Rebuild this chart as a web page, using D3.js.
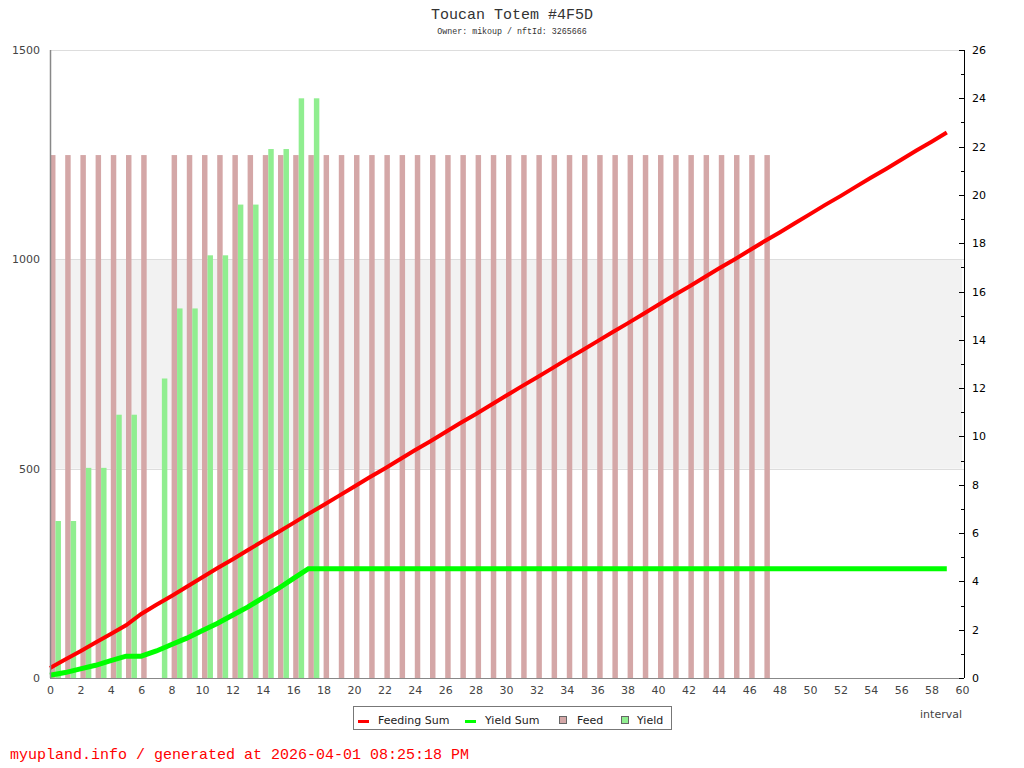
<!DOCTYPE html>
<html>
<head>
<meta charset="utf-8">
<script src="https://cdn.jsdelivr.net/npm/d3@7"></script>
<style>
  html, body { margin: 0; padding: 0; background: #fff; }
  svg { display: block; }
</style>
</head>
<body>
<svg id="chart" width="1024" height="768"></svg>
<script>
// ---------- data ----------
const titleText = "Toucan Totem #4F5D";
const subtitleText = "Owner: mikoup / nftId: 3265666";
const footerText = "myupland.info / generated at 2026-04-01 08:25:18 PM";
const xAxisLabel = "interval";

const leftTicks = [0, 500, 1000, 1500];
const rightTicks = [0, 2, 4, 6, 8, 10, 12, 14, 16, 18, 20, 22, 24, 26];
const rightMinorTicks = [1, 3, 5, 7, 9, 11, 13, 15, 17, 19, 21, 23, 25];
const bottomTicks = [0, 2, 4, 6, 8, 10, 12, 14, 16, 18, 20, 22, 24, 26, 28, 30, 32, 34, 36, 38, 40, 42, 44, 46, 48, 50, 52, 54, 56, 58, 60];

const feedIntervals = [0, 1, 2, 3, 4, 5, 6, 8, 9, 10, 11, 12, 13, 14, 15, 16, 17, 18, 19, 20, 21, 22, 23, 24, 25, 26, 27, 28, 29, 30, 31, 32, 33, 34, 35, 36, 37, 38, 39, 40, 41, 42, 43, 44, 45, 46, 47];
const feedValues = [21.65, 21.65, 21.65, 21.65, 21.65, 21.65, 21.65, 21.65, 21.65, 21.65, 21.65, 21.65, 21.65, 21.65, 21.65, 21.65, 21.65, 21.65, 21.65, 21.65, 21.65, 21.65, 21.65, 21.65, 21.65, 21.65, 21.65, 21.65, 21.65, 21.65, 21.65, 21.65, 21.65, 21.65, 21.65, 21.65, 21.65, 21.65, 21.65, 21.65, 21.65, 21.65, 21.65, 21.65, 21.65, 21.65, 21.65];

const yieldIntervals = [0, 1, 2, 3, 4, 5, 7, 8, 9, 10, 11, 12, 13, 14, 15, 16, 17];
const yieldValues = [6.5, 6.5, 8.7, 8.7, 10.9, 10.9, 12.4, 15.3, 15.3, 17.5, 17.5, 19.6, 19.6, 21.9, 21.9, 24.0, 24.0];

const sumIntervals = [0, 1, 2, 3, 4, 5, 6, 7, 8, 9, 10, 11, 12, 13, 14, 15, 16, 17, 18, 19, 20, 21, 22, 23, 24, 25, 26, 27, 28, 29, 30, 31, 32, 33, 34, 35, 36, 37, 38, 39, 40, 41, 42, 43, 44, 45, 46, 47, 48, 49, 50, 51, 52, 53, 54, 55, 56, 57, 58, 59];
const feedingSum = [24, 44, 64, 85, 105, 126, 153, 175, 196, 218, 240, 262, 283, 305, 327, 348, 370, 392, 413, 435, 457, 479, 500, 522, 544, 565, 587, 609, 630, 652, 674, 696, 717, 739, 761, 782, 804, 826, 847, 869, 891, 913, 934, 956, 978, 999, 1021, 1043, 1064, 1086, 1108, 1130, 1151, 1173, 1195, 1216, 1238, 1260, 1281, 1303];
const yieldSum = [6.5, 13, 21.7, 30.4, 41.3, 52.2, 52.2, 64.6, 79.9, 95.2, 112.7, 130.2, 149.8, 169.4, 191.3, 213.2, 237.2, 261.2, 261.2, 261.2, 261.2, 261.2, 261.2, 261.2, 261.2, 261.2, 261.2, 261.2, 261.2, 261.2, 261.2, 261.2, 261.2, 261.2, 261.2, 261.2, 261.2, 261.2, 261.2, 261.2, 261.2, 261.2, 261.2, 261.2, 261.2, 261.2, 261.2, 261.2, 261.2, 261.2, 261.2, 261.2, 261.2, 261.2, 261.2, 261.2, 261.2, 261.2, 261.2, 261.2];

const seriesNames = ["Feeding Sum", "Yield Sum", "Feed", "Yield"];
const colors = { feedingSum: "#ff0000", yieldSum: "#00ff00", feed: "#d4a7a7", yield: "#90ee90" };

// ---------- layout ----------
const svg = d3.select("#chart");
const plot = { left: 50, right: 962, top: 50, bottom: 678 };

const x = d3.scaleLinear().domain([0, 60]).range([plot.left, plot.right]);
const yL = d3.scaleLinear().domain([0, 1500]).range([plot.bottom, plot.top]);
const yR = d3.scaleLinear().domain([0, 26]).range([plot.bottom, plot.top]);

const unit = x(1) - x(0);
const barW = unit * 0.36;

// background band between 500 and 1000
svg.append("rect")
  .attr("x", plot.left).attr("width", plot.right - plot.left)
  .attr("y", yL(1000)).attr("height", yL(500) - yL(1000))
  .attr("fill", "#f2f2f2");

// gridlines
svg.append("g").selectAll("line").data([500, 1000, 1500]).join("line")
  .attr("x1", plot.left).attr("x2", plot.right + 2)
  .attr("y1", d => Math.round(yL(d)) + 0.5).attr("y2", d => Math.round(yL(d)) + 0.5)
  .attr("stroke", "#dddddd").attr("stroke-width", 1);

// bars
svg.append("g").selectAll("rect").data(feedIntervals).join("rect")
  .attr("x", (d) => x(d))
  .attr("width", barW)
  .attr("y", (d, i) => yR(feedValues[i]))
  .attr("height", (d, i) => yR(0) - yR(feedValues[i]))
  .attr("fill", colors.feed);

svg.append("g").selectAll("rect").data(yieldIntervals).join("rect")
  .attr("x", (d) => x(d) + barW)
  .attr("width", barW)
  .attr("y", (d, i) => yR(yieldValues[i]))
  .attr("height", (d, i) => yR(0) - yR(yieldValues[i]))
  .attr("fill", colors.yield);

// lines
const lineFeed = d3.line().x((d, i) => x(sumIntervals[i])).y(d => yL(d));
svg.append("path").datum(feedingSum)
  .attr("d", lineFeed).attr("fill", "none")
  .attr("stroke", colors.feedingSum).attr("stroke-width", 4);

svg.append("path").datum(yieldSum)
  .attr("d", lineFeed).attr("fill", "none")
  .attr("stroke", colors.yieldSum).attr("stroke-width", 5);

// left axis
const leftAxis = svg.append("g")
  .attr("transform", `translate(${plot.left},0)`)
  .call(d3.axisLeft(yL).tickValues(leftTicks).tickSize(0).tickPadding(10).tickFormat(d3.format("d")));
leftAxis.select(".domain").attr("stroke", "#888").attr("stroke-width", 1.5).attr("d", `M0.5,${plot.top}V${plot.bottom}`);
leftAxis.selectAll("text").attr("fill", "#444").style("font-family", "DejaVu Sans").style("font-size", "11px");

// bottom axis
const bottomAxis = svg.append("g")
  .attr("transform", `translate(0,${plot.bottom})`)
  .call(d3.axisBottom(x).tickValues(bottomTicks).tickSize(0).tickPadding(8).tickFormat(d3.format("d")));
bottomAxis.select(".domain").attr("stroke", "#888").attr("d", `M${plot.left},0.5H${plot.right + 2}`);
bottomAxis.selectAll("text").attr("fill", "#444").style("font-family", "DejaVu Sans").style("font-size", "11px");

// right axis
const rx = plot.right + 2;
const rightAxis = svg.append("g")
  .attr("transform", `translate(${rx},0)`)
  .call(d3.axisRight(yR).tickValues(rightTicks).tickSize(0).tickPadding(8).tickFormat(d3.format("d")));
rightAxis.select(".domain").attr("stroke", "#000").attr("d", `M0.5,${plot.top}V${plot.bottom}`);
rightAxis.selectAll("text").attr("fill", "#000").style("font-family", "DejaVu Sans").style("font-size", "11px");
svg.append("g").selectAll("line").data(rightTicks).join("line")
  .attr("x1", rx - 5).attr("x2", rx)
  .attr("y1", d => Math.round(yR(d)) + 0.5).attr("y2", d => Math.round(yR(d)) + 0.5)
  .attr("stroke", "#000");
svg.append("g").selectAll("line").data(rightMinorTicks).join("line")
  .attr("x1", rx - 3).attr("x2", rx)
  .attr("y1", d => Math.round(yR(d)) + 0.5).attr("y2", d => Math.round(yR(d)) + 0.5)
  .attr("stroke", "#000");

// x axis label
svg.append("text").attr("x", plot.right).attr("y", 718)
  .attr("text-anchor", "end").attr("fill", "#444")
  .style("font-family", "DejaVu Sans").style("font-size", "11px")
  .text(xAxisLabel);

// title
svg.append("text").attr("x", 512).attr("y", 19).attr("text-anchor", "middle")
  .attr("fill", "#333").style("font-family", "Liberation Mono").style("font-size", "15px")
  .text(titleText);
svg.append("text").attr("x", 512).attr("y", 34).attr("text-anchor", "middle")
  .attr("fill", "#333").style("font-family", "Liberation Mono").style("font-size", "8.3px")
  .text(subtitleText);

// legend
const lg = svg.append("g");
lg.append("rect").attr("x", 353.5).attr("y", 706.5).attr("width", 318).attr("height", 23)
  .attr("fill", "#fff").attr("stroke", "#777");
const legendItems = [
  { name: seriesNames[0], type: "line", color: colors.feedingSum, x: 358, tx: 378 },
  { name: seriesNames[1], type: "line", color: colors.yieldSum, x: 465, tx: 485 },
  { name: seriesNames[2], type: "box", color: colors.feed, x: 559, tx: 577 },
  { name: seriesNames[3], type: "box", color: colors.yield, x: 621, tx: 637 }
];
legendItems.forEach(it => {
  if (it.type === "line") {
    lg.append("rect").attr("x", it.x).attr("y", 720).attr("width", 11).attr("height", 3).attr("fill", it.color);
  } else {
    lg.append("rect").attr("x", it.x + 0.5).attr("y", 716.5).attr("width", 7).attr("height", 7)
      .attr("fill", it.color).attr("stroke", "#666");
  }
  lg.append("text").attr("x", it.tx).attr("y", 724).attr("fill", "#222")
    .style("font-family", "DejaVu Sans").style("font-size", "11px").text(it.name);
});

// footer
svg.append("text").attr("x", 10).attr("y", 759).attr("fill", "#ff0000")
  .style("font-family", "Liberation Mono").style("font-size", "15px")
  .text(footerText);
</script>
</body>
</html>
